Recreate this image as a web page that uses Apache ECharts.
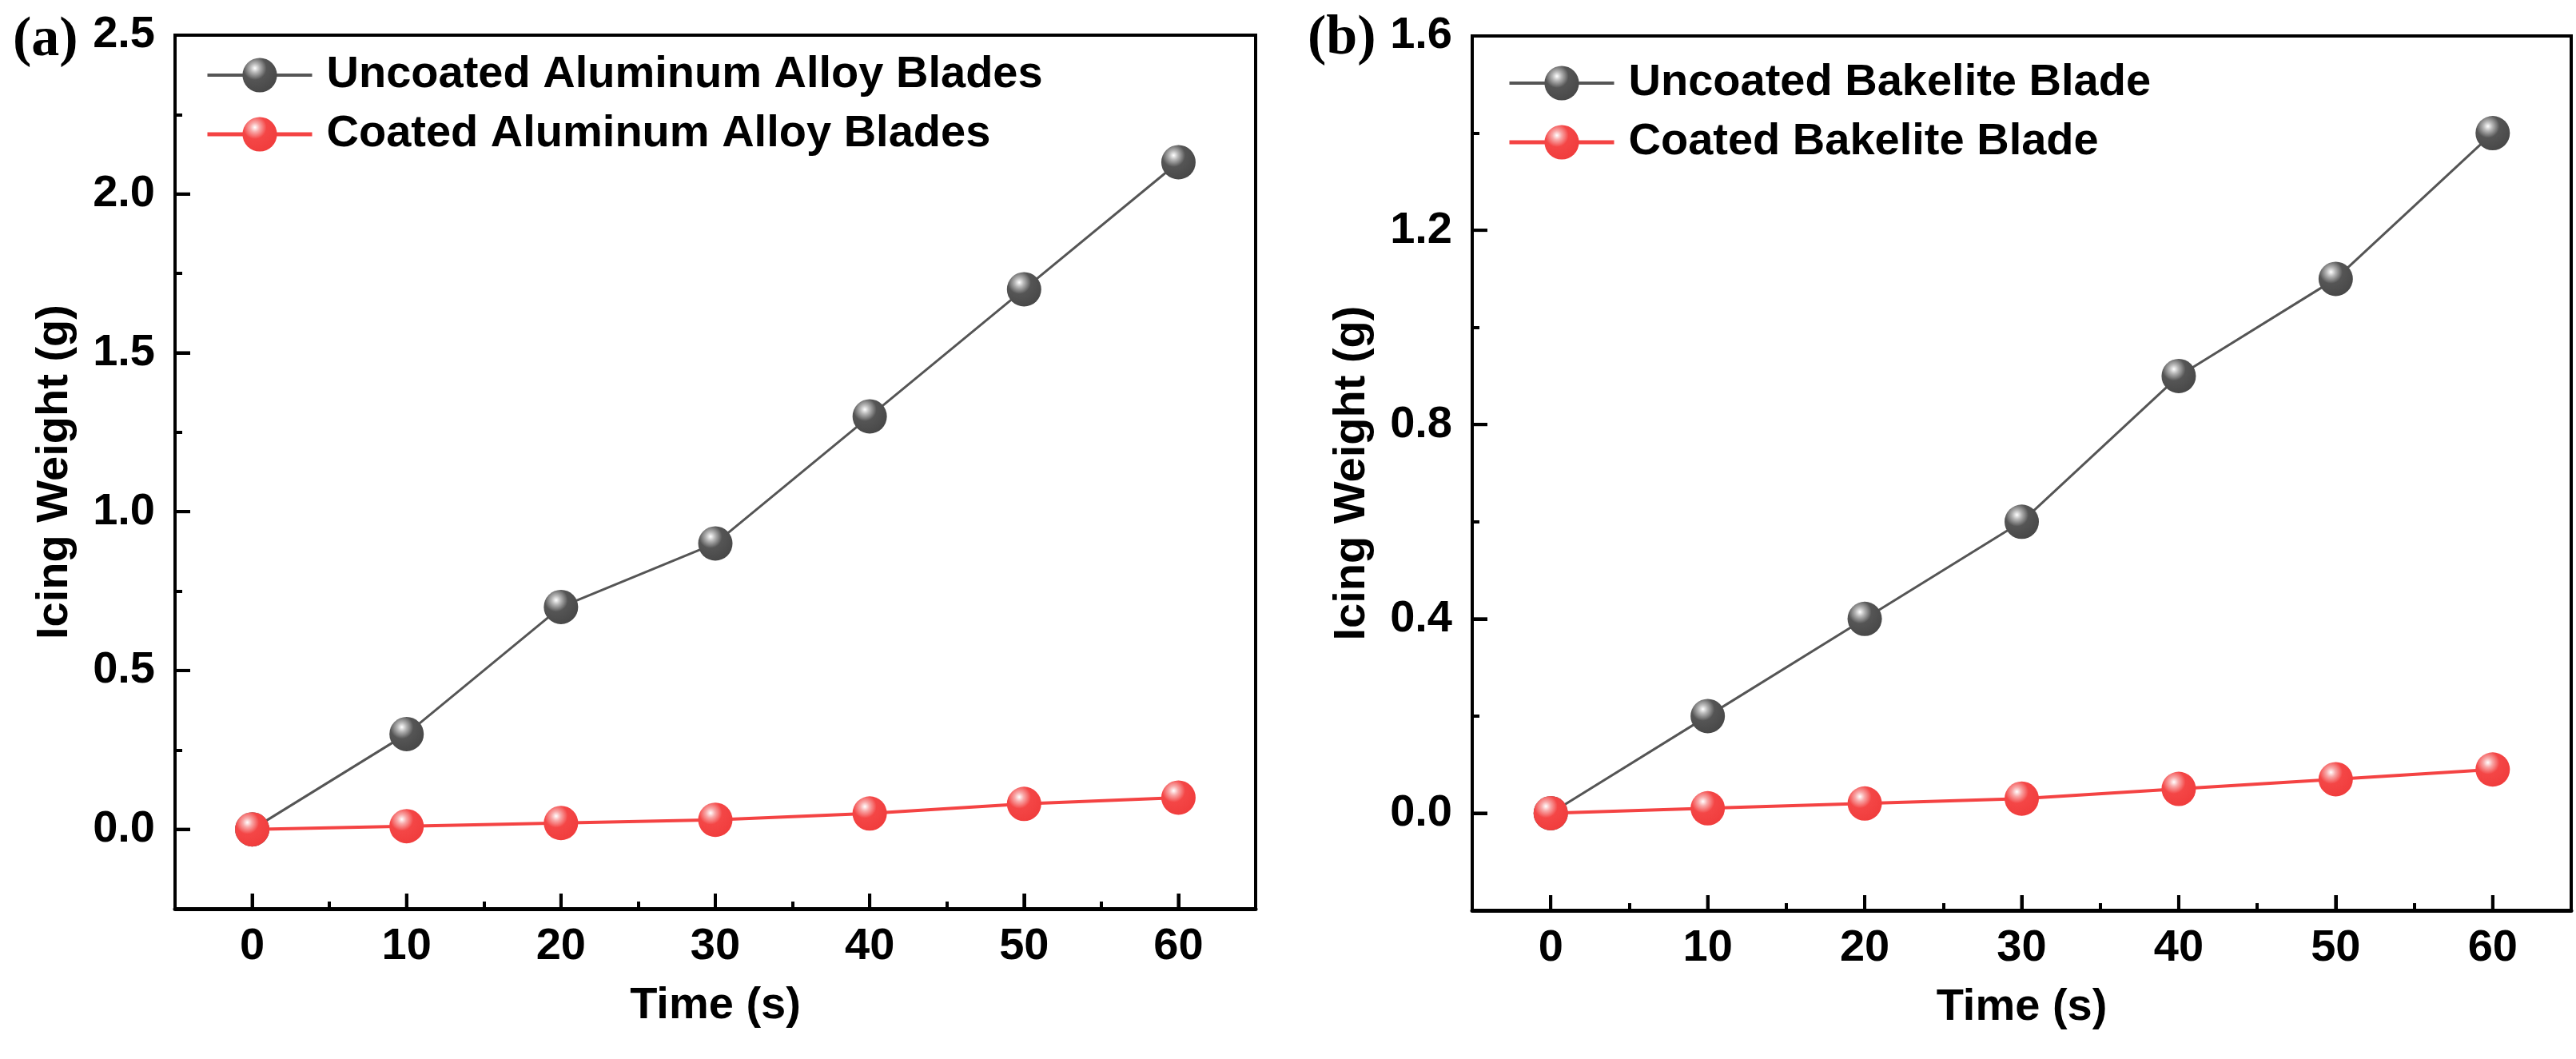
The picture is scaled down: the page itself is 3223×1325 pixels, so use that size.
<!DOCTYPE html>
<html>
<head>
<meta charset="utf-8">
<script src="https://cdn.jsdelivr.net/npm/echarts@6/dist/echarts.min.js"></script>
<style>
  html, body { margin: 0; padding: 0; background: #fff; }
  #Charts { width: 3223px; height: 1325px; }
</style>
</head>
<body>
<div id="Charts"></div>
<script>
// data
const timeValues = [0, 10, 20, 30, 40, 50, 60];
const uncoatedAluminum = [0, 0.3, 0.7, 0.9, 1.3, 1.7, 2.1];
const coatedAluminum = [0, 0.01, 0.02, 0.03, 0.05, 0.08, 0.1];
const uncoatedBakelite = [0, 0.2, 0.4, 0.6, 0.9, 1.1, 1.4];
const coatedBakelite = [0, 0.01, 0.02, 0.03, 0.05, 0.07, 0.09];

// axis ranges, tick labels and minor tick positions
const timeMin = -5, timeMax = 65;
const weightMinA = -0.25, weightMaxA = 2.5;
const weightMinB = -0.2, weightMaxB = 1.6;
const timeTicks = [0, 10, 20, 30, 40, 50, 60];
const timeMinorTicks = [5, 15, 25, 35, 45, 55];
const weightTicksA = [0, 0.5, 1.0, 1.5, 2.0, 2.5];
const weightMinorTicksA = [0.25, 0.75, 1.25, 1.75, 2.25];
const weightTicksB = [0, 0.4, 0.8, 1.2, 1.6];
const weightMinorTicksB = [0.2, 0.6, 1.0, 1.4];

const FONT = 'Liberation Sans, Arial, sans-serif';
const GRAY = '#555555';
const RED = '#f44343';

const grids = [
  { left: 219, top: 44, width: 1352, height: 1093 },
  { left: 1842, top: 45, width: 1375, height: 1094 }
];

function pairs(ys) {
  return timeValues.map((t, i) => [t, ys[i]]);
}

function ball(light, mid, dark) {
  return {
    type: 'radial', x: 0.36, y: 0.3, r: 0.75,
    colorStops: [
      { offset: 0, color: '#ffffff' },
      { offset: 0.18, color: light },
      { offset: 0.45, color: mid },
      { offset: 1, color: dark }
    ]
  }
}
const grayBall = ball('#b5b5b5', '#555555', '#474747');
const redBall = ball('#f8a8a8', '#f44646', '#f03c3c');

function mainX(gridIndex) {
  return {
    type: 'value', gridIndex: gridIndex, min: timeMin, max: timeMax, position: 'bottom',
    name: 'Time (s)', nameLocation: 'middle', nameGap: 94,
    nameTextStyle: { fontFamily: FONT, fontWeight: 'bold', fontSize: 56, color: '#000' },
    axisLine: { show: true, onZero: false, lineStyle: { color: '#000', width: 5 } },
    axisTick: { show: true, inside: true, length: 19, customValues: timeTicks, lineStyle: { color: '#000', width: 4 } },
    axisLabel: { show: true, customValues: timeTicks, margin: 20, fontFamily: FONT, fontWeight: 'bold', fontSize: 56, color: '#000' },
    splitLine: { show: false }
  }
}
// minor ticks: a top axis pulled down onto the bottom edge, ticks pointing up into the plot
function minorX(gridIndex) {
  return {
    type: 'value', gridIndex: gridIndex, min: timeMin, max: timeMax, position: 'top',
    offset: -grids[gridIndex].height,
    axisLine: { show: false, onZero: false },
    axisTick: { show: true, inside: false, length: 9, customValues: timeMinorTicks, lineStyle: { color: '#000', width: 4 } },
    axisLabel: { show: false },
    splitLine: { show: false }
  }
}
function mainY(gridIndex, min, max, ticks) {
  return {
    type: 'value', gridIndex: gridIndex, min: min, max: max, position: 'left',
    name: 'Icing Weight (g)', nameLocation: 'middle', nameGap: 122,
    nameTextStyle: { fontFamily: FONT, fontWeight: 'bold', fontSize: 56, color: '#000' },
    axisLine: { show: true, onZero: false, lineStyle: { color: '#000', width: 4 } },
    axisTick: { show: true, inside: true, length: 19, customValues: ticks, lineStyle: { color: '#000', width: 4 } },
    axisLabel: {
      show: true, customValues: ticks, margin: 25,
      fontFamily: FONT, fontWeight: 'bold', fontSize: 56, color: '#000',
      formatter: v => v.toFixed(1)
    },
    splitLine: { show: false }
  }
}
// minor ticks: a right axis pulled left onto the left edge
function minorY(gridIndex, min, max, ticks) {
  return {
    type: 'value', gridIndex: gridIndex, min: min, max: max, position: 'right',
    offset: -grids[gridIndex].width,
    axisLine: { show: false, onZero: false },
    axisTick: { show: true, inside: false, length: 9, customValues: ticks, lineStyle: { color: '#000', width: 4 } },
    axisLabel: { show: false },
    splitLine: { show: false }
  }
}

// major ticks as small bars sitting on the axis edges, placed through the axes' scales
function majorTicks(axisIndex, points, size, offset) {
  return {
    type: 'scatter', xAxisIndex: axisIndex, yAxisIndex: axisIndex,
    data: points, symbol: 'rect', symbolSize: size, symbolOffset: offset,
    itemStyle: { color: '#000', opacity: 1 }, silent: true, clip: false, z: 10,
    tooltip: { show: false }
  }
}

function lineSeries(name, axisIndex, ys, lineColor, lineWidth, fill) {
  return {
    name: name, type: 'line',
    xAxisIndex: axisIndex, yAxisIndex: axisIndex,
    data: pairs(ys),
    symbol: 'circle', symbolSize: 43,
    lineStyle: { color: lineColor, width: lineWidth },
    itemStyle: { color: fill, borderWidth: 0 },
    z: lineColor === GRAY ? 2 : 3
  }
}

function legendFor(names, left, top) {
  return {
    data: [
      { name: names[0], lineStyle: { width: 4, color: GRAY } },
      { name: names[1], lineStyle: { width: 5, color: RED } }
    ],
    orient: 'vertical', left: left, top: top,
    itemWidth: 131, itemHeight: 54, itemGap: 18, padding: 0,
    textStyle: { fontFamily: FONT, fontWeight: 'bold', fontSize: 56, color: '#000', padding: [0, 0, 0, 13] }
  }
}

const chart = echarts.init(document.getElementById('Charts'));
const option = {
  backgroundColor: '#fff',
  animation: false,
  title: [
    { text: '(a)', left: 16, top: 16, padding: 0, textStyle: { fontFamily: 'Liberation Serif, Times New Roman, serif', fontWeight: 'bold', fontSize: 70, color: '#000' } },
    { text: '(b)', left: 1636, top: 14, padding: 0, textStyle: { fontFamily: 'Liberation Serif, Times New Roman, serif', fontWeight: 'bold', fontSize: 70, color: '#000' } }
  ],
  legend: [
    legendFor(['Uncoated Aluminum Alloy Blades', 'Coated Aluminum Alloy Blades'], 257, 66),
    legendFor(['Uncoated Bakelite Blade', 'Coated Bakelite Blade'], 1886, 76)
  ],
  grid: grids.map(g => Object.assign({ show: true, borderColor: '#000', borderWidth: 4, backgroundColor: 'transparent' }, g)),
  xAxis: [mainX(0), mainX(1), minorX(0), minorX(1)],
  yAxis: [
    mainY(0, weightMinA, weightMaxA, weightTicksA),
    mainY(1, weightMinB, weightMaxB, weightTicksB),
    minorY(0, weightMinA, weightMaxA, weightMinorTicksA),
    minorY(1, weightMinB, weightMaxB, weightMinorTicksB)
  ],
  series: [
    majorTicks(0, timeTicks.map(t => [t, weightMinA]), [4, 19], [0, -9.5]),
    majorTicks(0, weightTicksA.map(v => [timeMin, v]), [19, 4], [9.5, 0]),
    majorTicks(1, timeTicks.map(t => [t, weightMinB]), [4, 19], [0, -9.5]),
    majorTicks(1, weightTicksB.map(v => [timeMin, v]), [19, 4], [9.5, 0]),
    lineSeries('Uncoated Aluminum Alloy Blades', 0, uncoatedAluminum, GRAY, 3, grayBall),
    lineSeries('Coated Aluminum Alloy Blades', 0, coatedAluminum, RED, 4, redBall),
    lineSeries('Uncoated Bakelite Blade', 1, uncoatedBakelite, GRAY, 3, grayBall),
    lineSeries('Coated Bakelite Blade', 1, coatedBakelite, RED, 4, redBall)
  ]
};
chart.setOption(option);
</script>
</body>
</html>
